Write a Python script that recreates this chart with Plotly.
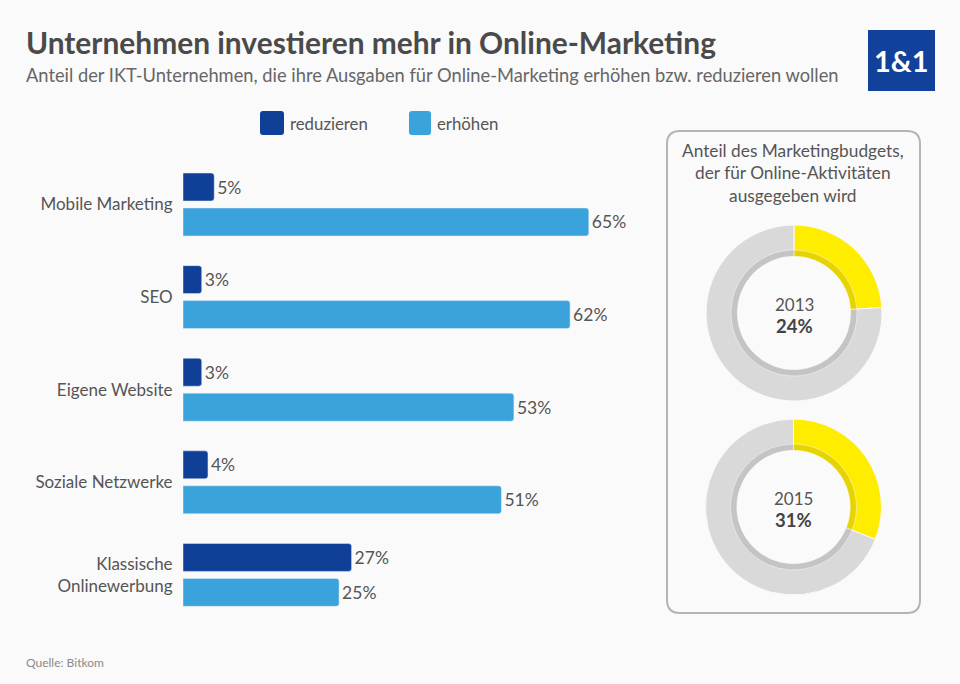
import plotly.graph_objects as go

W = 960
H = 684

categories = ['Mobile Marketing', 'SEO', 'Eigene Website', 'Soziale Netzwerke', 'Klassische<br>Onlinewerbung']
reduzieren = [5, 3, 3, 4, 27]
erhoehen = [65, 62, 53, 51, 25]

donut_years = ['2013', '2015']
donut_shares = [24, 31]

DARK = '#0f3f96'
LIGHT = '#3aa3dc'
TEXT = '#555555'
BG = '#fafafa'
FONT = 'Lato'


def fx(px):
    return px / W


def fy(px):
    return 1 - px / H


def donut(cx, cy, r, share, hole, colors, line_width):
    return go.Pie(values=[share, 100 - share], sort=False, direction='clockwise', rotation=0,
                  hole=hole, textinfo='none', hoverinfo='skip', showlegend=False,
                  marker=dict(colors=colors, line=dict(color=BG, width=line_width)),
                  domain=dict(x=[fx(cx - r), fx(cx + r)], y=[fy(cy + r), fy(cy - r)]))


def label(px, py, text, size=18, color=TEXT, anchor='center'):
    return dict(x=fx(px), y=fy(py), xref='paper', yref='paper', text=text, showarrow=False,
                xanchor=anchor, yanchor='middle', align=anchor,
                font=dict(family=FONT, size=size, color=color))


fig = go.Figure()

fig.add_trace(go.Bar(name='reduzieren', y=categories, x=reduzieren, orientation='h', marker_color=DARK,
                     text=[str(v) + '%' for v in reduzieren], textposition='outside', cliponaxis=False,
                     constraintext='none', textfont=dict(family=FONT, size=17.5, color=TEXT)))
fig.add_trace(go.Bar(name='erhöhen', y=categories, x=erhoehen, orientation='h', marker_color=LIGHT,
                     text=[str(v) + '%' for v in erhoehen], textposition='outside', cliponaxis=False,
                     constraintext='none', textfont=dict(family=FONT, size=17.5, color=TEXT)))

# zwei Ringe uebereinander, der innere ist der dunklere Rand
centers = [(794, 313), (793.5, 507)]
for (cx, cy), share in zip(centers, donut_shares):
    fig.add_trace(donut(cx, cy, 88, share, 0.7, ['#ffed00', '#d9d9d9'], 1))
    fig.add_trace(donut(cx, cy, 63, share, 0.9, ['#e6d400', '#c4c4c4'], 0.5))

annotations = [
    label(24, 42, '<b>Unternehmen investieren mehr in Online-Marketing</b>', 29.9, '#4a4a4a', 'left'),
    label(24, 75, 'Anteil der IKT-Unternehmen, die ihre Ausgaben für Online-Marketing erhöhen bzw. reduzieren wollen', 18.3, '#666666', 'left'),
    label(901.5, 60, '<b>1&1</b>', 29, 'white'),
    label(288, 123, 'reduzieren', 16.8, TEXT, 'left'),
    label(435, 123, 'erhöhen', 16.8, TEXT, 'left'),
    label(793, 173, 'Anteil des Marketingbudgets,<br>der für Online-Aktivitäten<br>ausgegeben wird', 17.3),
    label(24, 662, 'Quelle: Bitkom', 12, '#8a8a8a', 'left'),
]
for (cx, cy), year, share in zip(centers, donut_years, donut_shares):
    annotations.append(label(cx, cy - 9, year, 17))
    annotations.append(label(cx, cy + 13, '<b>' + str(share) + '%</b>', 18.5, '#444444'))


def rect(x0, y0, x1, y1, fill, line=None, width=0, layer='below', radius=4):
    path = (f'M {fx(x0 + radius)} {fy(y0)} L {fx(x1 - radius)} {fy(y0)} Q {fx(x1)} {fy(y0)} {fx(x1)} {fy(y0 + radius)} '
            f'L {fx(x1)} {fy(y1 - radius)} Q {fx(x1)} {fy(y1)} {fx(x1 - radius)} {fy(y1)} '
            f'L {fx(x0 + radius)} {fy(y1)} Q {fx(x0)} {fy(y1)} {fx(x0)} {fy(y1 - radius)} '
            f'L {fx(x0)} {fy(y0 + radius)} Q {fx(x0)} {fy(y0)} {fx(x0 + radius)} {fy(y0)} Z')
    return dict(type='path', xref='paper', yref='paper', path=path, fillcolor=fill, layer=layer,
                line=dict(color=line if line else fill, width=width))


shapes = [
    rect(667, 131, 920, 613, 'rgba(0,0,0,0)', '#b4b4b4', 2, radius=13),
    rect(868, 30, 935, 91, '#12419b', radius=0),
    rect(260, 111, 284, 135, DARK, radius=3),
    rect(409, 111, 431, 135, LIGHT, radius=3),
]

fig.update_layout(
    width=W, height=H, margin=dict(l=0, r=0, t=0, b=0),
    paper_bgcolor=BG, plot_bgcolor=BG,
    font=dict(family=FONT, size=18, color=TEXT),
    barmode='group', bargap=0.245, bargroupgap=0.2, barcornerradius=3,
    showlegend=False,
    xaxis=dict(domain=[fx(183), fx(650)], range=[0, 74.8], visible=False, fixedrange=True),
    yaxis=dict(domain=[fy(621.2), fy(158.2)], type='category', categoryorder='array', categoryarray=categories,
               range=[4.5, -0.5], showline=False, showgrid=False, zeroline=False, ticks='outside', ticklen=6,
               tickcolor='rgba(0,0,0,0)', tickfont=dict(family=FONT, size=17, color=TEXT), fixedrange=True),
    annotations=annotations, shapes=shapes,
)

# Seite ohne Standardrand, sonst rutscht alles um 8px
fig.write_html('out.html', config={'displayModeBar': False}, post_script="document.body.style.margin='0';")
